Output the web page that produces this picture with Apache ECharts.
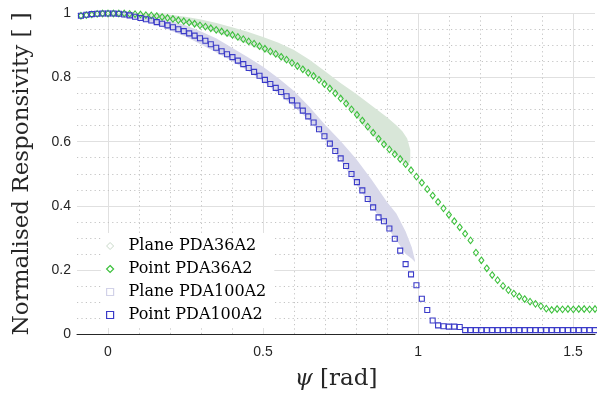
<!DOCTYPE html>
<html>
<head>
<meta charset="utf-8">
<script src="https://cdn.jsdelivr.net/npm/echarts@6/dist/echarts.min.js"></script>
<style>html,body{margin:0;padding:0;background:#fff}#c{width:597px;height:396px}</style>
</head>
<body>
<div id="c"></div>
<script>
// Angles of incidence of the point measurements, in degrees
const anglesDeg = [-5,-4,-3,-2,-1,0,1,2,3,4,5,6,7,8,9,10,11,12,13,14,15,16,17,18,19,20,21,22,23,24,25,26,27,28,29,30,31,32,33,34,35,36,37,38,39,40,41,42,43,44,45,46,47,48,49,50,51,52,53,54,55,56,57,58,59,60,61,62,63,64,65,66,67,68,69,70,71,72,73,74,75,76,77,78,79,80,81,82,83,84,85,86,87,88,89,90];
// Point PDA36A2 (green diamonds)
const pointPDA36A2 = [0.993,0.995,0.997,0.999,1.0,1.0,1.0,1.0,1.0,0.999,0.998,0.997,0.995,0.994,0.992,0.989,0.986,0.983,0.979,0.976,0.972,0.968,0.963,0.959,0.954,0.949,0.944,0.939,0.933,0.927,0.920,0.913,0.906,0.898,0.890,0.882,0.874,0.865,0.856,0.846,0.836,0.826,0.815,0.805,0.793,0.780,0.766,0.751,0.735,0.719,0.701,0.684,0.666,0.647,0.628,0.609,0.592,0.576,0.561,0.546,0.530,0.511,0.491,0.472,0.452,0.432,0.412,0.392,0.372,0.352,0.333,0.313,0.292,0.254,0.230,0.205,0.184,0.168,0.150,0.137,0.126,0.117,0.109,0.101,0.094,0.087,0.079,0.075,0.078,0.077,0.078,0.077,0.078,0.078,0.077,0.078];
// Point PDA100A2 (blue squares)
const pointPDA100A2 = [0.993,0.996,0.998,0.999,1.0,1.0,1.0,0.999,0.997,0.994,0.990,0.986,0.982,0.978,0.973,0.968,0.963,0.957,0.951,0.945,0.938,0.931,0.923,0.915,0.904,0.893,0.882,0.873,0.864,0.853,0.842,0.830,0.818,0.806,0.793,0.780,0.768,0.755,0.742,0.729,0.713,0.697,0.679,0.660,0.639,0.617,0.594,0.571,0.548,0.524,0.499,0.474,0.448,0.421,0.395,0.364,0.352,0.329,0.297,0.260,0.218,0.186,0.152,0.110,0.075,0.042,0.027,0.024,0.023,0.023,0.022,0.012,0.012,0.012,0.012,0.012,0.012,0.012,0.012,0.012,0.012,0.012,0.012,0.012,0.012,0.012,0.012,0.012,0.012,0.012,0.012,0.012,0.012,0.012,0.012,0.012];
// Plane PDA36A2 scatter cloud: envelope (psi in rad, lower, upper)
const planePDA36A2X    = [0.0,0.05,0.1,0.15,0.2,0.25,0.3,0.35,0.4,0.45,0.5,0.55,0.6,0.65,0.7,0.75,0.8,0.85,0.9,0.93,0.95,0.965,0.975];
const planePDA36A2Low  = [0.996,0.994,0.991,0.987,0.979,0.969,0.956,0.941,0.924,0.905,0.884,0.862,0.838,0.812,0.78,0.736,0.68,0.623,0.583,0.556,0.538,0.523,0.54];
const planePDA36A2High = [1.0,1.0,1.0,0.999,0.996,0.99,0.981,0.97,0.957,0.943,0.927,0.909,0.886,0.856,0.82,0.783,0.75,0.713,0.676,0.651,0.632,0.61,0.575];
// Plane PDA100A2 scatter cloud: envelope (psi in rad, lower, upper)
const planePDA100A2X    = [0.0,0.05,0.1,0.15,0.2,0.25,0.3,0.35,0.4,0.45,0.5,0.55,0.6,0.65,0.7,0.75,0.8,0.85,0.9,0.93,0.96,0.98,0.99];
const planePDA100A2Low  = [0.995,0.991,0.981,0.967,0.948,0.928,0.903,0.878,0.852,0.822,0.788,0.75,0.71,0.666,0.608,0.543,0.468,0.398,0.333,0.293,0.25,0.235,0.225];
const planePDA100A2High = [1.0,0.999,0.996,0.989,0.978,0.963,0.944,0.922,0.893,0.864,0.834,0.798,0.758,0.708,0.653,0.602,0.547,0.482,0.412,0.376,0.32,0.27,0.23];
// Axis ticks (major) and minor grid positions
const xTicks = [0, 0.5, 1, 1.5];
const yTicks = [0, 0.2, 0.4, 0.6, 0.8, 1];
const xMinor = [0.1, 0.2, 0.3, 0.4, 0.6, 0.7, 0.8, 0.9, 1.1, 1.2, 1.3, 1.4];
const yMinor = [0.05, 0.1, 0.15, 0.25, 0.3, 0.35, 0.45, 0.5, 0.55, 0.65, 0.7, 0.75, 0.85, 0.9, 0.95];

const toRad = Math.PI / 180;
const psi = anglesDeg.map(d => d * toRad);

function bandSeries(name, xs, lo, hi, fill) {
  return {
    type: 'custom', name: name, z: 2, silent: true, clip: true,
    data: xs.map((x, i) => [x, lo[i], hi[i]]),
    encode: { x: 0, y: [1, 2] },
    renderItem: function (params, api) {
      if (params.dataIndex !== 0) return null;
      const pts = [];
      for (let i = 0; i < xs.length; i++) pts.push(api.coord([xs[i], hi[i]]));
      for (let i = xs.length - 1; i >= 0; i--) pts.push(api.coord([xs[i], lo[i]]));
      return { type: 'polygon', shape: { points: pts }, style: { fill: fill } };
    }
  };
}

const majorLines = xTicks.map(v => ({ xAxis: v })).concat(yTicks.filter(v => v > 0).map(v => ({ yAxis: v })));
const minorLines = xMinor.map(v => ({ xAxis: v })).concat(yMinor.map(v => ({ yAxis: v })));

const green = '#3cc03c', blue = '#3a3ac8';
const textCol = '#262626';
const serif = 'DejaVu Serif';

const chart = echarts.init(document.getElementById('c'), null, { renderer: 'canvas' });
const g = bandSeries('Plane PDA36A2', planePDA36A2X, planePDA36A2Low, planePDA36A2High, '#d8e6d8');
g.markLine = {
  z: 1, silent: true, symbol: ['none', 'none'], animation: false,
  label: { show: false },
  lineStyle: { color: '#e0e0e0', width: 1, type: 'solid' },
  data: majorLines
};
const b = bandSeries('Plane PDA100A2', planePDA100A2X, planePDA100A2Low, planePDA100A2High, '#d8d8ea');
b.markLine = {
  z: 1, silent: true, symbol: ['none', 'none'], animation: false,
  label: { show: false },
  lineStyle: { color: '#c4c4c4', width: 1, type: [1.2, 3.2] },
  data: minorLines
};
chart.setOption({
  animation: false,
  grid: { left: 77, right: 2, top: 13.5, bottom: 61, containLabel: false },
  xAxis: {
    type: 'value', min: -0.1, max: Math.PI / 2, interval: 0.1,
    name: '{i|ψ} [rad]', nameLocation: 'middle', nameGap: 34,
    nameTextStyle: { fontFamily: serif, fontSize: 23, color: textCol, rich: { i: { fontFamily: serif, fontStyle: 'italic', fontSize: 23, color: textCol } } },
    axisLine: { onZero: false, lineStyle: { color: textCol, width: 1 } },
    axisTick: { inside: true, length: 5, customValues: xTicks, lineStyle: { color: textCol } },
    axisLabel: { customValues: xTicks, fontFamily: 'Liberation Sans', fontSize: 14, color: textCol, margin: 11 },
    splitLine: { show: false }
  },
  yAxis: {
    type: 'value', min: 0, max: 1, interval: 0.05,
    name: 'Normalised Responsivity [ ]', nameLocation: 'middle', nameGap: 43,
    nameTextStyle: { fontFamily: serif, fontSize: 23, color: textCol },
    axisLine: { show: true, lineStyle: { color: textCol, width: 1 } },
    axisTick: { show: true, inside: true, length: 5, customValues: yTicks, lineStyle: { color: textCol } },
    axisLabel: { customValues: yTicks, fontFamily: 'Liberation Sans', fontSize: 14, color: textCol, margin: 6 },
    splitLine: { show: false }
  },
  legend: {
    orient: 'vertical', left: 101, top: 233, itemWidth: 7, itemHeight: 7, itemGap: 7,
    backgroundColor: '#ffffff', padding: [5, 8, 5, 5],
    textStyle: { fontFamily: serif, fontSize: 16, color: '#000', padding: [0, 0, 0, 10] },
    data: [
      { name: 'Plane PDA36A2', icon: 'diamond', itemStyle: { color: '#ffffff', borderColor: '#c9d9c9', borderWidth: 1 } },
      { name: 'Point PDA36A2', icon: 'diamond', itemStyle: { color: '#ffffff', borderColor: green, borderWidth: 1.2 } },
      { name: 'Plane PDA100A2', icon: 'rect', itemStyle: { color: '#ffffff', borderColor: '#d2d2e8', borderWidth: 1.2 } },
      { name: 'Point PDA100A2', icon: 'rect', itemStyle: { color: '#ffffff', borderColor: blue, borderWidth: 1.2 } }
    ]
  },
  series: [
    g,
    b,
    {
      type: 'scatter', name: 'Point PDA36A2', z: 3, silent: true,
      symbol: 'diamond', symbolSize: [5, 6.5],
      itemStyle: { color: 'rgba(255,255,255,0)', borderColor: green, borderWidth: 1.1, opacity: 1 },
      data: psi.map((x, i) => [x, pointPDA36A2[i]])
    },
    {
      type: 'scatter', name: 'Point PDA100A2', z: 4, silent: true,
      symbol: 'rect', symbolSize: 5,
      itemStyle: { color: 'rgba(255,255,255,0)', borderColor: blue, borderWidth: 1.1, opacity: 1 },
      data: psi.map((x, i) => [x, pointPDA100A2[i]])
    }
  ]
});
</script>
</body>
</html>
